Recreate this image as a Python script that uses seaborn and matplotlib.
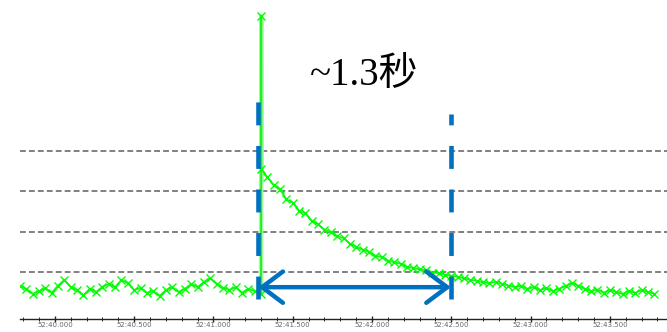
import numpy as np
import matplotlib
matplotlib.use("Agg")
import matplotlib.pyplot as plt
import matplotlib.ticker as mticker
import seaborn as sns

sns.set_style("white")

# sample grid (seconds within minute 52) and trace values
t_grid = np.round(np.arange(39.78, 43.81, 0.04), 2)
v_grid = [
    0.65, 0.58, 0.45, 0.52, 0.60, 0.48, 0.66, 0.80, 0.62, 0.55,
    0.42, 0.58, 0.50, 0.63, 0.70, 0.62, 0.80, 0.72, 0.55, 0.60,
    0.48, 0.52, 0.40, 0.55, 0.62, 0.50, 0.58, 0.70, 0.62, 0.75,
    0.85, 0.70, 0.60, 0.55, 0.62, 0.48, 0.58, 0.52, 0.45,
    3.35, 3.15, 3.05, 2.80, 2.72, 2.52, 2.45, 2.26, 2.18, 2.05,
    1.98, 1.88, 1.84, 1.70, 1.62, 1.55, 1.50, 1.40, 1.37, 1.28,
    1.24, 1.20, 1.12, 1.10, 1.06, 1.04, 0.98, 0.97, 0.93, 0.90,
    0.88, 0.84, 0.80, 0.78, 0.74, 0.72, 0.75, 0.70, 0.66, 0.62,
    0.65, 0.58, 0.62, 0.55, 0.60, 0.52, 0.58, 0.65, 0.72, 0.66,
    0.58, 0.52, 0.56, 0.48, 0.55, 0.50, 0.45, 0.52, 0.48, 0.55,
    0.50, 0.46,
]
# the spike
spike_t = [41.301, 41.302]
spike_v = [7.35, 3.55]

# annotation: start / end of recovery
mark_t = [41.283, 42.497]
mark_top = [5.29, 4.91]
mark_bottom = 0.32
arrow_y = 0.62
label = "~1.3秒"

t = np.concatenate([t_grid[:len(v_grid)], spike_t])
v = np.concatenate([v_grid, spike_v])
order = np.argsort(t)
t, v = t[order], v[order]

fig = plt.figure(figsize=(6.67, 3.32), dpi=100)
ax = fig.add_axes([20 / 667, 13 / 332, 647 / 667, 319 / 332])

# pale wide stroke under the spike
k = int(np.argmax(v))
ax.plot(t[k - 1:k + 2], v[k - 1:k + 2], color="#99ff99", lw=3.2, zorder=1)

sns.lineplot(x=t, y=v, ax=ax, color="#22ee22", lw=1.3, marker="x",
             markersize=6, markeredgewidth=1.0, markeredgecolor="#00ff00",
             estimator=None, sort=False, zorder=2)

ax.set_xlim(39.78, 43.86)
ax.set_ylim(-0.17, 7.75)

ax.set_yticks([1, 2, 3, 4])
ax.yaxis.grid(True, color="#808080", lw=1.4, linestyle=(0, (3, 1.6)))
ax.xaxis.grid(False)
ax.tick_params(axis="y", left=False, labelleft=False)

ax.xaxis.set_major_locator(mticker.MultipleLocator(0.5))
ax.xaxis.set_minor_locator(mticker.MultipleLocator(0.1))
ax.xaxis.set_major_formatter(mticker.FuncFormatter(lambda x, p: f"52:{x:06.3f}"))
ax.tick_params(axis="x", which="major", direction="inout", length=4, width=1,
               labelsize=5, labelcolor="#666666", pad=0, bottom=True)
ax.tick_params(axis="x", which="minor", direction="inout", length=3, width=0.7,
               bottom=True)

for s in ["top", "right", "left"]:
    ax.spines[s].set_visible(False)
ax.spines["bottom"].set_color("#222222")
ax.spines["bottom"].set_linewidth(1.0)
ax.spines["bottom"].set_linestyle((0, (3, 1)))

blue = "#0070C0"
for xm, top in zip(mark_t, mark_top):
    ax.plot([xm, xm], [mark_bottom, top], color=blue, lw=3.3,
            linestyle=(0, (5, 4.5)), solid_capstyle="butt", zorder=5)

ax.annotate("", xy=(mark_t[1], arrow_y), xytext=(mark_t[0], arrow_y),
            arrowprops=dict(arrowstyle="<->,head_length=0.6,head_width=0.45",
                            lw=3.2, color=blue, mutation_scale=25,
                            shrinkA=0, shrinkB=0), zorder=6)

ax.text(np.mean(mark_t) + 0.06, 5.88, label, fontsize=28, ha="center", va="center",
        family=["Liberation Serif", "Noto Sans CJK SC"], color="black")

fig.savefig("out.png", dpi=100)
